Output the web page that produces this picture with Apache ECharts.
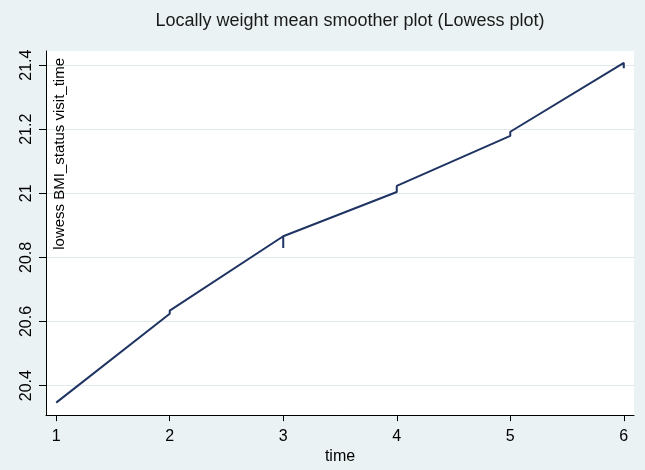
<!DOCTYPE html>
<html>
<head>
<meta charset="utf-8">
<script src="https://cdn.jsdelivr.net/npm/echarts@6/dist/echarts.min.js"></script>
<style>
html,body{margin:0;padding:0;background:#EAF2F3;}
#c{width:645px;height:470px;}
</style>
</head>
<body>
<div id="c"></div>
<script>
// Data (lowess smoothed values; repeated x give the small vertical steps)
const timeValues = [1, 2, 2, 3, 3, 3, 4, 4, 5, 5, 6, 6];
const lowessValues = [20.347, 20.624, 20.634, 20.866, 20.829, 20.866, 21.004, 21.023, 21.179, 21.192, 21.407, 21.39];
const xTicks = [1, 2, 3, 4, 5, 6];
const yTicks = [20.4, 20.6, 20.8, 21, 21.2, 21.4];
const chartTitle = 'Locally weight mean smoother plot (Lowess plot)';
const xName = 'time';
const yName = 'lowess BMI_status visit_time';

const font = 'Liberation Sans, Arial, sans-serif';
const chart = echarts.init(document.getElementById('c'), null, {renderer: 'canvas'});
chart.setOption({
  backgroundColor: '#EAF2F3',
  animation: false,
  grid: {left: 46, right: 11, top: 51, bottom: 53, show: true, backgroundColor: '#ffffff', borderWidth: 0},
  xAxis: {
    type: 'value', min: 0.91, max: 6.09,
    name: xName, nameLocation: 'middle', nameGap: 27,
    nameTextStyle: {color: '#000', fontSize: 16, fontFamily: font},
    axisLine: {show: true, onZero: false, lineStyle: {color: '#000', width: 1}},
    axisTick: {show: true, length: 6, customValues: xTicks, lineStyle: {color: '#000'}},
    axisLabel: {customValues: xTicks, color: '#000', fontSize: 16, fontFamily: font, margin: 13},
    splitLine: {show: false}
  },
  yAxis: {
    type: 'value', min: 20.308, max: 21.444,
    axisLine: {show: true, onZero: false, lineStyle: {color: '#000', width: 1}},
    axisTick: {show: true, length: 7, customValues: yTicks, lineStyle: {color: '#000'}},
    axisLabel: {customValues: yTicks, rotate: 90, color: '#000', fontSize: 16, fontFamily: font, margin: 11,
      formatter: v => String(+v.toFixed(1))},
    splitLine: {show: true, lineStyle: {color: '#E0EAED', width: 1}}
  },
  graphic: [
    {type: 'text', x: 350, y: 21, silent: true,
     style: {text: chartTitle, fill: '#1a1a1a', fontSize: 18, fontFamily: font, align: 'center', verticalAlign: 'middle'}},
    {type: 'text', x: 60, y: 58, rotation: Math.PI / 2, silent: true, z: 10,
     style: {text: yName, fill: '#000', fontSize: 15, fontFamily: font, align: 'right', verticalAlign: 'middle'}}
  ],
  series: [{
    type: 'line',
    data: timeValues.map((t, i) => [t, lowessValues[i]]),
    showSymbol: false,
    symbol: 'none',
    lineStyle: {color: '#1F3462', width: 2},
    z: 5
  }]
});
</script>
</body>
</html>
